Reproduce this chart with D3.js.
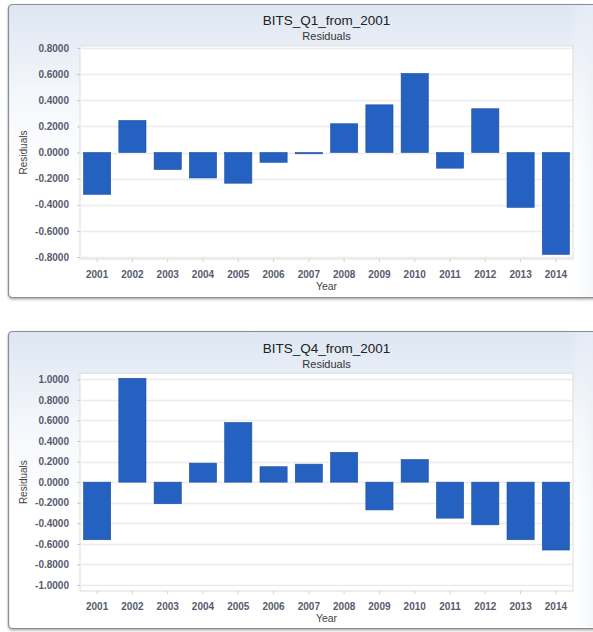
<!DOCTYPE html>
<html>
<head>
<meta charset="utf-8">
<script src="https://cdn.jsdelivr.net/npm/d3@7"></script>
<style>
  html, body { margin: 0; padding: 0; background: #ffffff; }
  svg { display: block; }
  text { font-family: "Liberation Sans", Arial, sans-serif; }
</style>
</head>
<body>
<svg id="chart" width="593" height="632"></svg>
<script>
// ---- data ----
const years = ["2001","2002","2003","2004","2005","2006","2007","2008","2009","2010","2011","2012","2013","2014"];
const q1Residuals = [-0.32, 0.245, -0.13, -0.195, -0.235, -0.075, -0.01, 0.22, 0.365, 0.605, -0.12, 0.335, -0.42, -0.78];
const q4Residuals = [-0.56, 1.01, -0.21, 0.185, 0.58, 0.15, 0.175, 0.29, -0.27, 0.22, -0.35, -0.415, -0.56, -0.66];
const q1Ticks = [0.8, 0.6, 0.4, 0.2, 0.0, -0.2, -0.4, -0.6, -0.8];
const q4Ticks = [1.0, 0.8, 0.6, 0.4, 0.2, 0.0, -0.2, -0.4, -0.6, -0.8, -1.0];
const titles = ["BITS_Q1_from_2001", "BITS_Q4_from_2001"];
const subtitle = "Residuals";
const xTitle = "Year";
const yTitle = "Residuals";

const svg = d3.select("#chart");
const defs = svg.append("defs");
const grad = defs.append("linearGradient").attr("id", "panelGrad")
  .attr("x1", 0).attr("y1", 0).attr("x2", 0).attr("y2", 1);
grad.append("stop").attr("offset", "0%").attr("stop-color", "#dde6f2");
grad.append("stop").attr("offset", "30%").attr("stop-color", "#f4f7fb");
grad.append("stop").attr("offset", "60%").attr("stop-color", "#ffffff");
const gradR = defs.append("linearGradient").attr("id", "panelGradR")
  .attr("x1", 0).attr("y1", 0).attr("x2", 1).attr("y2", 0);
gradR.append("stop").attr("offset", "0%").attr("stop-color", "#ffffff").attr("stop-opacity", 0);
gradR.append("stop").attr("offset", "100%").attr("stop-color", "#dde6f2").attr("stop-opacity", 0.9);
const shadow = defs.append("filter").attr("id", "shadow").attr("x", "-5%").attr("y", "-5%").attr("width", "110%").attr("height", "110%");
shadow.append("feDropShadow").attr("dx", 0).attr("dy", 1.5).attr("stdDeviation", 1).attr("flood-color", "#777").attr("flood-opacity", 0.6);

function drawChart(cfg) {
  const g = svg.append("g");
  // panel
  g.append("rect")
    .attr("x", cfg.panel.x).attr("y", cfg.panel.y)
    .attr("width", cfg.panel.w).attr("height", cfg.panel.h)
    .attr("rx", 4).attr("ry", 4)
    .attr("fill", "url(#panelGrad)")
    .attr("stroke", "#8a8d92").attr("stroke-width", 1.2)
    .attr("filter", "url(#shadow)");
  g.append("rect")
    .attr("x", cfg.panel.x + cfg.panel.w - 40).attr("y", cfg.panel.y + 1)
    .attr("width", 40).attr("height", cfg.panel.h - 2)
    .attr("fill", "url(#panelGradR)");

  const x = d3.scaleBand().domain(years).range([cfg.left, cfg.right]).paddingInner(0.23).paddingOuter(0.1);
  const y = d3.scaleLinear().domain(cfg.domain).range([cfg.yBottom, cfg.yTop]);

  // plot area
  g.append("rect")
    .attr("x", cfg.left).attr("y", cfg.yTop - cfg.pad)
    .attr("width", cfg.right - cfg.left).attr("height", cfg.yBottom - cfg.yTop + 2 * cfg.pad)
    .attr("fill", "#ffffff").attr("stroke", "#dcdcdc").attr("stroke-width", 1);

  // gridlines
  g.append("g").selectAll("line").data(cfg.ticks).join("line")
    .attr("x1", cfg.left).attr("x2", cfg.right)
    .attr("y1", d => Math.round(y(d)) + 0.5).attr("y2", d => Math.round(y(d)) + 0.5)
    .attr("stroke", "#ececec").attr("stroke-width", 1.5);

  // y axis
  const yAxis = d3.axisLeft(y).tickValues(cfg.ticks).tickFormat(d3.format(".4f")).tickSize(3).tickPadding(8);
  const ya = g.append("g").attr("transform", `translate(${cfg.left},0)`).call(yAxis);
  ya.select(".domain").remove();
  ya.selectAll(".tick line").attr("stroke", "#c8c8c8");
  ya.selectAll(".tick text")
    .attr("font-family", "Liberation Sans, Arial, sans-serif")
    .attr("font-size", 10).attr("font-weight", "bold").attr("fill", "#5a5a6e")
    .text(d => d3.format(".4f")(d).replace("−", "-"));

  // x axis
  const xAxis = d3.axisBottom(x).tickSize(3).tickPadding(9);
  const xa = g.append("g").attr("transform", `translate(0,${cfg.yBottom + cfg.pad})`).call(xAxis);
  xa.select(".domain").remove();
  xa.selectAll(".tick line").attr("stroke", "#d0d0d0");
  xa.selectAll(".tick text")
    .attr("font-family", "Liberation Sans, Arial, sans-serif")
    .attr("font-size", 10).attr("font-weight", "bold").attr("fill", "#5a5a6e");

  // bars
  g.append("g").selectAll("rect").data(cfg.values).join("rect")
    .attr("x", (d, i) => x(years[i]))
    .attr("width", x.bandwidth())
    .attr("y", d => y(Math.max(0, d)))
    .attr("height", d => Math.max(1, Math.abs(y(d) - y(0))))
    .attr("fill", "#2461c1")
    .attr("stroke", "#1d4f9f").attr("stroke-width", 0.6);

  // titles
  const cx = (cfg.left + cfg.right) / 2;
  g.append("text").attr("x", cx).attr("y", cfg.titleY)
    .attr("text-anchor", "middle").attr("font-size", 13.5).attr("fill", "#222")
    .text(cfg.title);
  g.append("text").attr("x", cx).attr("y", cfg.titleY + 15)
    .attr("text-anchor", "middle").attr("font-size", 11).attr("fill", "#333")
    .text(subtitle);
  g.append("text").attr("x", cx).attr("y", cfg.yBottom + cfg.pad + 31)
    .attr("text-anchor", "middle").attr("font-size", 10.5).attr("fill", "#444")
    .text(xTitle);
  const ymid = (cfg.yTop + cfg.yBottom) / 2;
  g.append("text")
    .attr("transform", `translate(27,${ymid}) rotate(-90)`)
    .attr("text-anchor", "middle").attr("font-size", 10).attr("fill", "#444")
    .text(yTitle);
}

drawChart({
  panel: {x: 8.5, y: 4.5, w: 600, h: 293},
  left: 80, right: 573, yTop: 48, yBottom: 257, pad: 2,
  domain: [-0.8, 0.8], ticks: q1Ticks, values: q1Residuals,
  title: titles[0], titleY: 25
});
drawChart({
  panel: {x: 8.5, y: 331.5, w: 600, h: 297},
  left: 80, right: 573, yTop: 379.3, yBottom: 585, pad: 6,
  domain: [-1.0, 1.0], ticks: q4Ticks, values: q4Residuals,
  title: titles[1], titleY: 353
});
</script>
</body>
</html>
